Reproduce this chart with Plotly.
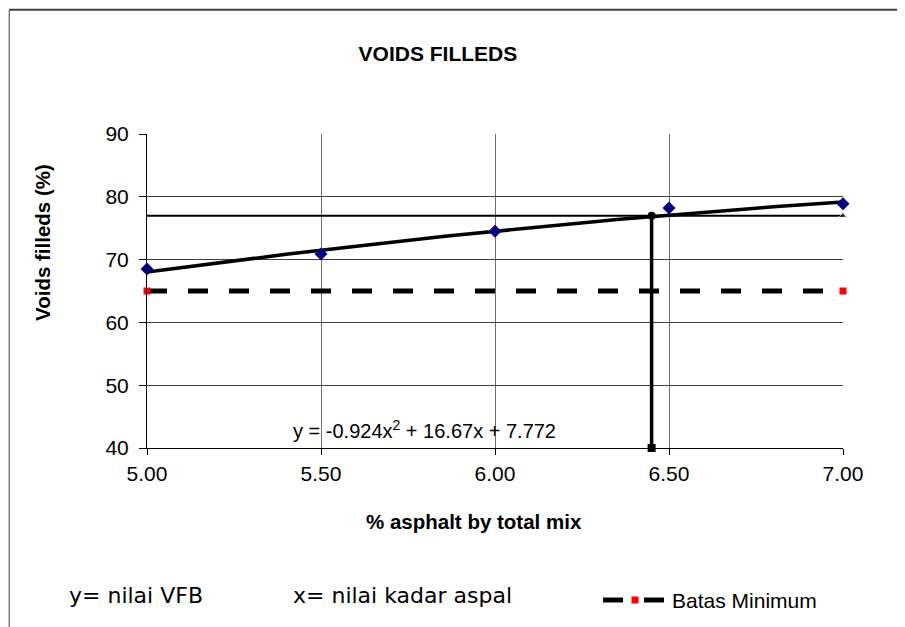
import plotly.graph_objects as go

# ---- data ----
asphalt = [5.0, 5.5, 6.0, 6.5, 7.0]
vfb = [68.5, 70.9, 74.5, 78.2, 78.9]
trend_coef = [-0.924, 16.67, 7.772]          # y = a x^2 + b x + c (from chart)
trend_x = [5.0 + i * 0.05 for i in range(41)]
opt_x = [6.45, 6.45]
opt_y = [40, 77]
target_x = [5.0, 7.0]
target_y = [77, 77]
min_x = [5.0, 7.0]
min_y = [65, 65]
x_ticks = [5.0, 5.5, 6.0, 6.5, 7.0]
y_ticks = [40, 50, 60, 70, 80, 90]

trend_y = [trend_coef[0] * x * x + trend_coef[1] * x + trend_coef[2] for x in trend_x]

AR = "Arial, 'Liberation Sans', sans-serif"
NOTE = "'DejaVu Sans', sans-serif"
fig = go.Figure()

fig.add_trace(go.Scatter(x=target_x, y=target_y, mode="lines+markers",
                         line=dict(color="black", width=2),
                         marker=dict(symbol="triangle-up", size=[0, 7], color="black"),
                         showlegend=False, cliponaxis=False, hoverinfo="skip"))
fig.add_trace(go.Scatter(x=min_x, y=min_y, mode="lines+markers", name="Batas Minimum",
                         line=dict(color="black", width=5, dash="20px,21px"),
                         marker=dict(symbol="square", size=7, color="#ff0000"),
                         cliponaxis=False))
fig.add_trace(go.Scatter(x=trend_x, y=trend_y, mode="lines",
                         line=dict(color="black", width=3.5),
                         showlegend=False, cliponaxis=False, hoverinfo="skip"))
fig.add_trace(go.Scatter(x=opt_x, y=opt_y, mode="lines+markers",
                         line=dict(color="black", width=3.5),
                         marker=dict(symbol=["square", "circle"], size=8, color="black"),
                         showlegend=False, cliponaxis=False))
fig.add_trace(go.Scatter(x=asphalt, y=vfb, mode="markers",
                         marker=dict(symbol="diamond", size=10, color="#000080"),
                         showlegend=False, cliponaxis=False))

fig.update_layout(
    width=905, height=627,
    margin=dict(l=139, r=70, t=126, b=187),
    paper_bgcolor="white", plot_bgcolor="white",
    font=dict(family=AR, size=21, color="black"),
    title=dict(text="<b>VOIDS FILLEDS</b>", x=0.4751, xref="container", xanchor="center",
               y=0.9266, yref="container", yanchor="middle",
               font=dict(family=AR, size=21, color="black")),
    showlegend=True,
    legend=dict(orientation="h", x=0.648, xanchor="left", y=-0.485, yanchor="middle",
                itemwidth=64,
                font=dict(family=AR, size=21, color="black"), bgcolor="rgba(0,0,0,0)"),
    xaxis=dict(range=[5, 7], tickvals=x_ticks, tickformat=".2f",
               showgrid=True, gridcolor="#707070", gridwidth=1,
               showline=True, linecolor="black", linewidth=1,
               ticks="outside", ticklen=6, tickcolor="black",
               ticklabelstandoff=1, zeroline=False,
               tickfont=dict(family=AR, size=21, color="black")),
    yaxis=dict(range=[40, 90], tickvals=y_ticks,
               showgrid=True, gridcolor="#404040", gridwidth=1,
               showline=True, linecolor="black", linewidth=1,
               ticks="outside", ticklen=7, tickcolor="black",
               ticklabelstandoff=6, zeroline=False,
               tickfont=dict(family=AR, size=21, color="black")),
    shapes=[
        dict(type="line", xref="paper", yref="paper", x0=-0.198, x1=1.2, y0=1.396, y1=1.396,
             line=dict(color="#404040", width=2)),
        dict(type="line", xref="paper", yref="paper", x0=-0.198, x1=-0.198, y0=1.396, y1=-0.7,
             line=dict(color="#404040", width=1)),
    ],
    annotations=[
        dict(text="y = -0.924x<sup>2</sup> + 16.67x + 7.772", x=5.415, y=42.9,
             xref="x", yref="y", xanchor="left", yanchor="middle", showarrow=False,
             font=dict(family=AR, size=20, color="black")),
        dict(text="<b>Voids filleds (%)</b>", x=-0.1509, y=0.656, xref="paper", yref="paper",
             textangle=-90, xanchor="center", yanchor="middle", showarrow=False,
             font=dict(family=AR, size=20.5, color="black")),
        dict(text="<b>% asphalt by total mix</b>", x=0.4698, y=-0.235, xref="paper", yref="paper",
             xanchor="center", yanchor="middle", showarrow=False,
             font=dict(family=AR, size=20.5, color="black")),
        dict(text="y= nilai VFB", x=-0.0158, y=-0.47, xref="paper", yref="paper",
             xanchor="center", yanchor="middle", showarrow=False,
             font=dict(family=NOTE, size=22, color="black")),
        dict(text="x= nilai kadar aspal", x=0.3678, y=-0.47, xref="paper", yref="paper",
             xanchor="center", yanchor="middle", showarrow=False,
             font=dict(family=NOTE, size=22, color="black")),
    ],
)

fig.write_html("out.html")
